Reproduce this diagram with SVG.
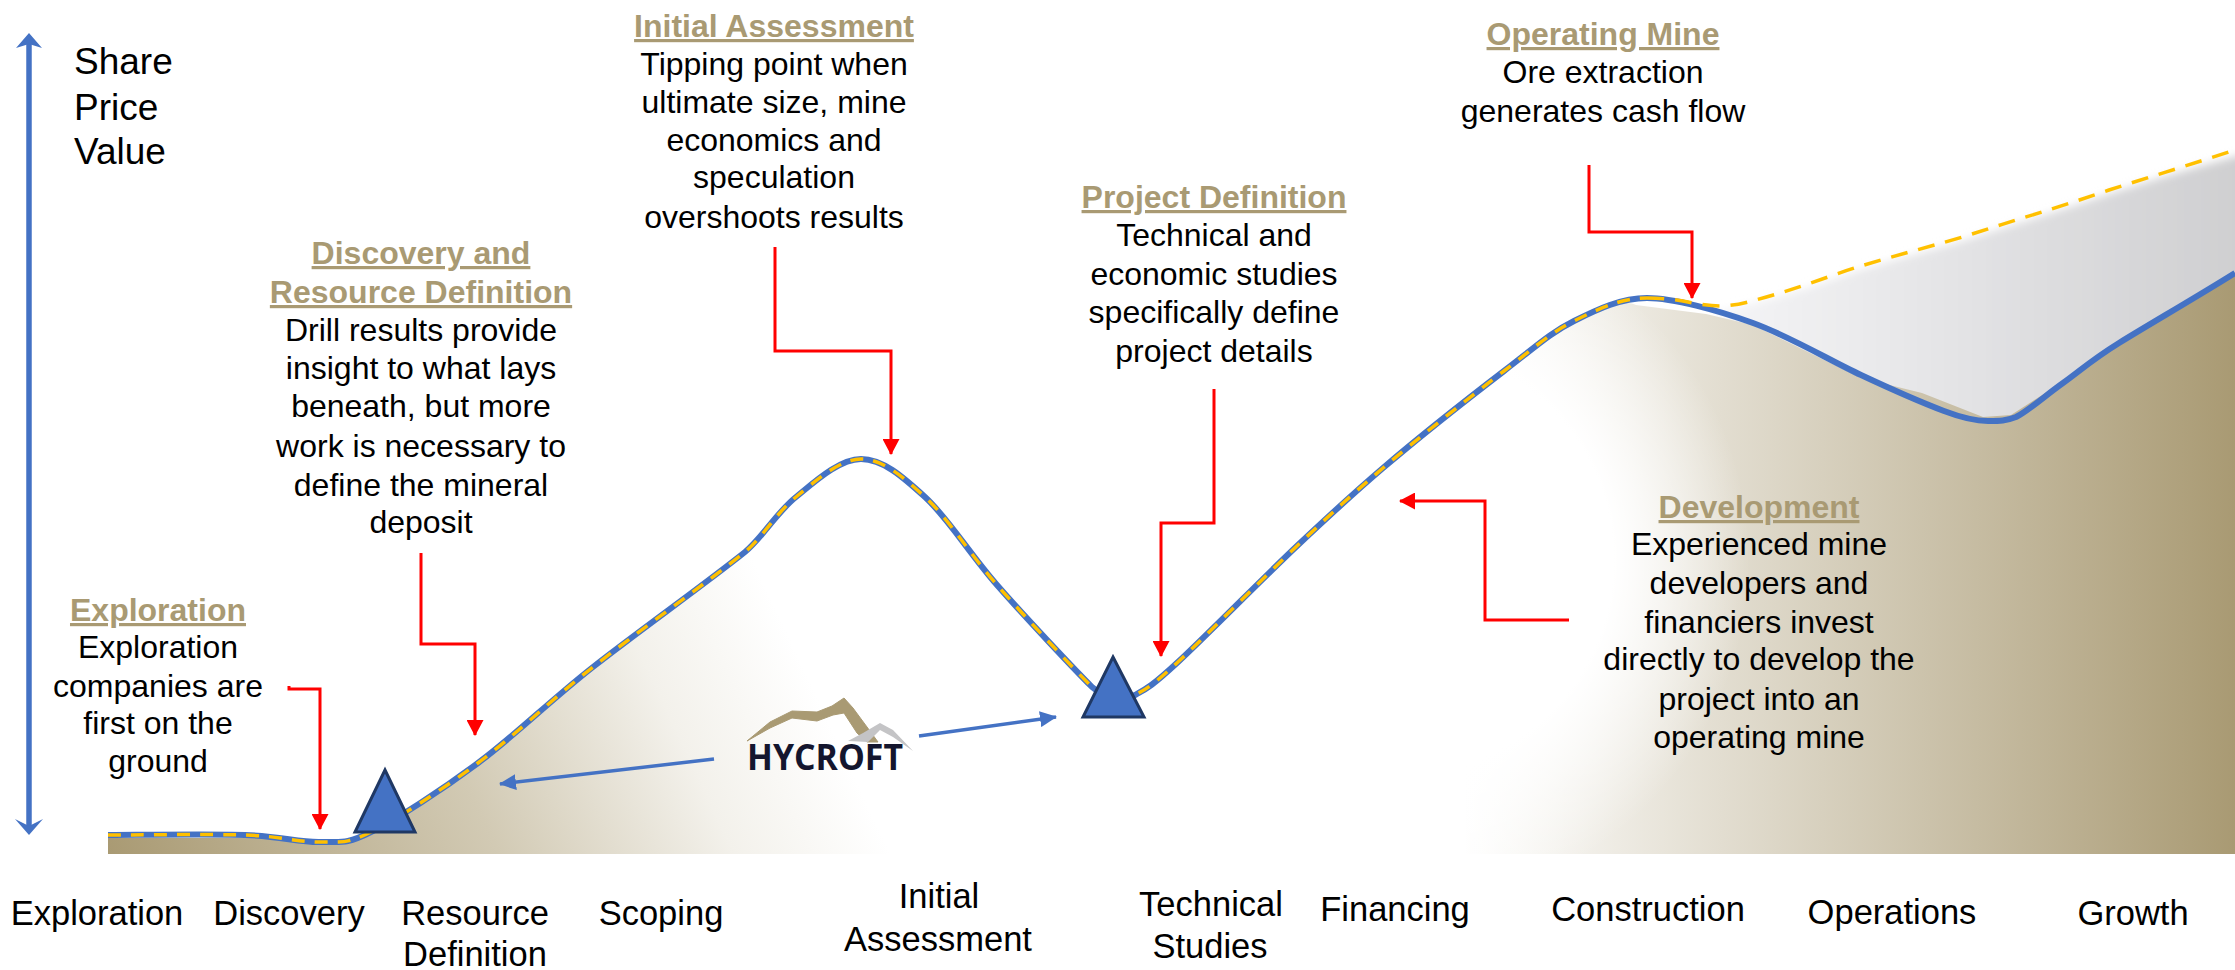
<svg xmlns="http://www.w3.org/2000/svg" width="2235" height="970" viewBox="0 0 2235 970">
<style>
text{font-family:"Liberation Sans",Arial,sans-serif;font-size:32px;fill:#000;text-anchor:middle}
.h{font-weight:700;fill:#A99A73;text-decoration:underline}
.s{font-size:34.500px}
.v{font-size:37px;text-anchor:start}
.red{fill:none;stroke:#FF0000;stroke-width:3}
.blue{fill:none;stroke:#4472C4;stroke-width:3.500}
.curve{fill:none;stroke:#4472C4;stroke-width:6;stroke-linejoin:round}
.dash{fill:none;stroke:#FFC000;stroke-width:3.500;stroke-dasharray:13 10}
.dash2{fill:none;stroke:#FFC000;stroke-width:3.500;stroke-dasharray:17 11}
.tri{fill:#4472C4;stroke:#1F3864;stroke-width:3}
</style>
<defs>
<linearGradient id="gl" gradientUnits="userSpaceOnUse" x1="108" y1="853" x2="750" y2="553"><stop offset="0" stop-color="#A99A73"/><stop offset=".5" stop-color="#D2CAB4"/><stop offset=".8" stop-color="#F3F1EB"/><stop offset="1" stop-color="#FFF"/></linearGradient>
<linearGradient id="gr" gradientUnits="userSpaceOnUse" x1="1464" y1="0" x2="2235" y2="0"><stop offset="0" stop-color="#FFF"/><stop offset="1" stop-color="#A99A73"/></linearGradient>
<radialGradient id="gw" gradientUnits="userSpaceOnUse" cx="1400" cy="560" r="350"><stop offset=".61" stop-color="#FFF"/><stop offset="1" stop-color="#FFF" stop-opacity="0"/></radialGradient>
<linearGradient id="gg" gradientUnits="userSpaceOnUse" x1="1730" y1="0" x2="2235" y2="0"><stop offset="0" stop-color="#F4F4F6"/><stop offset="1" stop-color="#CFCFD1"/></linearGradient>
<filter id="soft" x="-5%" y="-5%" width="110%" height="110%"><feGaussianBlur stdDeviation="4"/></filter>
<marker id="ar" markerUnits="userSpaceOnUse" markerWidth="16" markerHeight="17" refX="15" refY="8.500" orient="auto"><path d="M0 0L16 8.500L0 17Z" fill="#FF0000"/></marker>
<marker id="ab" markerUnits="userSpaceOnUse" markerWidth="17" markerHeight="16" refX="16" refY="8" orient="auto"><path d="M0 0L17 8L0 16Z" fill="#4472C4"/></marker>
</defs>
<g id="terrain">
<path fill="url(#gl)" d="M108 854V838H245C280 836 299 842.500 320 842C341 841.500 345 845 371 832C397 819 441 790.500 478 763C515 735.500 548.500 702 593 667C637.500 632 705 584 745 552C763 537 777 512 796 497L905 854Z"/>
<path fill="url(#gg)" filter="url(#soft)" d="M1712 312C1745 306 1785 296 1828 281C1875 264 1920 254 1969 239C2015 224 2060 211 2109 194C2150 181 2195 167 2245 154V300L2100 420L1990 440L1860 400L1750 345Z"/>
<path fill="url(#gr)" d="M1383 854V468C1417 439 1472 395.500 1504 371C1536 346.500 1550 333 1574 321C1598 309 1621 298 1636 305L1706 314L1753 325L1861 378L1922 393L1983 417L2011 415L2086 367L2119 343C2148 325 2195 298 2235 273V854Z"/>
<rect fill="url(#gw)" x="1050" y="210" width="700" height="644"/>
</g>
<g id="connectors">
<path class="curve" d="M108 835C131 835 210 834 245 835C280 836 299 842.500 320 842C341 841.500 345 845 371 832C397 819 441 790.500 478 763C515 735.500 548.500 702 593 667C637.500 632 705 584 745 552C763 537 777 512 796 497C815 481.500 839.500 459 861 459C882.500 459 902 476 925 497C948 518 969 553 997 585C1025 617 1073 668 1092 687C1099 693 1106 696 1113 698C1120 700 1124 701 1135 695C1146 689 1151 687 1178 662C1205 637 1264 577 1298 545C1332 513 1349 497 1383 468C1417 439 1472 395.500 1504 371C1536 346.500 1550 333 1574 321C1598 309 1621 298 1647 298C1673 298 1717 310 1753 323C1789 336 1829 360 1861 375C1893 390 1923 403 1944 411C1965 419 1976 421 1988 421C2000 421 2006 421 2016 417C2028 411 2046 395 2063 383C2080 371 2090 361 2119 343C2148 325 2195 298 2235 273"/>
<path class="dash" d="M108 835C131 835 210 834 245 835C280 836 299 842.500 320 842C341 841.500 345 845 371 832C397 819 441 790.500 478 763C515 735.500 548.500 702 593 667C637.500 632 705 584 745 552C763 537 777 512 796 497C815 481.500 839.500 459 861 459C882.500 459 902 476 925 497C948 518 969 553 997 585C1025 617 1073 668 1092 687C1099 693 1106 696 1113 698C1120 700 1124 701 1135 695C1146 689 1151 687 1178 662C1205 637 1264 577 1298 545C1332 513 1349 497 1383 468C1417 439 1472 395.500 1504 371C1536 346.500 1550 333 1574 321C1598 309 1621 298 1647 298"/>
<path class="dash2" d="M1647 298C1665 298 1678 300 1688 302C1698 304 1710 306 1720 306C1730 306 1740 304 1748 302C1775 295 1800 287 1828 277C1875 260 1920 250 1969 235C2015 220 2060 207 2109 190C2150 177 2195 163 2235 150"/>
<path class="blue" style="stroke-width:5.500" d="M29 42V828"/>
<path fill="#4472C4" d="M29 33L42 48L29 44L16 48Z"/>
<path fill="#4472C4" d="M29 835L43 819L29 826L15 819Z"/>
<path class="red" marker-end="url(#ar)" d="M289 686V689H320V829"/>
<path class="red" marker-end="url(#ar)" d="M421 553V644H475V735"/>
<path class="red" marker-end="url(#ar)" d="M775 247V351H891V454"/>
<path class="red" marker-end="url(#ar)" d="M1214 389V523H1161V656"/>
<path class="red" marker-end="url(#ar)" d="M1589 165V232H1692V298"/>
<path class="red" marker-end="url(#ar)" d="M1569 620H1485V501H1400"/>
<path class="blue" marker-end="url(#ab)" d="M714 759L500 784"/>
<path class="blue" marker-end="url(#ab)" d="M919 736L1056 717"/>
</g>
<g id="triangle-1"><path class="tri" d="M385 770L415 832H355Z"/></g>
<g id="triangle-2"><path class="tri" d="M1113 657L1144 717H1083Z"/></g>
<g id="hycroft-logo">
<path fill="#A99A73" stroke="#A99A73" stroke-linejoin="round" d="M747 741L770 722L792 711L817 712L832 706L844 698L853 708L867 727L878 742H867L857 733L844 713L833 715L817 721L792 718L770 728Z"/>
<path fill="#C4C4C6" d="M848 741L863 733L880 723L893 730L913 751L893 737L880 730L868 742Z"/>
<text x="825" y="770" textLength="156" lengthAdjust="spacingAndGlyphs" style="font-family:'Open Sans','Noto Sans',sans-serif;font-weight:700;font-size:36px;fill:#14162E">HYCROFT</text>
</g>
<g id="share-price"><text class="v" x="74" y="74">Share</text><text class="v" x="74" y="120">Price</text><text class="v" x="74" y="164">Value</text></g>
<g id="exploration"><text class="h" x="158" y="621">Exploration</text><text x="158" y="658">Exploration</text><text x="158" y="697">companies are</text><text x="158" y="734">first on the</text><text x="158" y="772">ground</text></g>
<g id="discovery"><text class="h" x="421" y="264">Discovery and</text><text class="h" x="421" y="303">Resource Definition</text><text x="421" y="341">Drill results provide</text><text x="421" y="379">insight to what lays</text><text x="421" y="417">beneath, but more</text><text x="421" y="457">work is necessary to</text><text x="421" y="496">define the mineral</text><text x="421" y="533">deposit</text></g>
<g id="initial"><text class="h" x="774" y="37">Initial Assessment</text><text x="774" y="75">Tipping point when</text><text x="774" y="113">ultimate size, mine</text><text x="774" y="151">economics and</text><text x="774" y="188">speculation</text><text x="774" y="228">overshoots results</text></g>
<g id="project"><text class="h" x="1214" y="208">Project Definition</text><text x="1214" y="246">Technical and</text><text x="1214" y="285">economic studies</text><text x="1214" y="323">specifically define</text><text x="1214" y="362">project details</text></g>
<g id="operating"><text class="h" x="1603" y="45">Operating Mine</text><text x="1603" y="83">Ore extraction</text><text x="1603" y="122">generates cash flow</text></g>
<g id="development"><text class="h" x="1759" y="518">Development</text><text x="1759" y="555">Experienced mine</text><text x="1759" y="594">developers and</text><text x="1759" y="633">financiers invest</text><text x="1759" y="670">directly to develop the</text><text x="1759" y="710">project into an</text><text x="1759" y="748">operating mine</text></g>
<g id="stages">
<text class="s" x="97" y="925">Exploration</text><text class="s" x="289" y="925">Discovery</text><text class="s" x="475" y="925">Resource</text><text class="s" x="475" y="966">Definition</text><text class="s" x="661" y="925">Scoping</text><text class="s" x="939" y="908">Initial</text><text class="s" x="938" y="951">Assessment</text><text class="s" x="1211" y="916">Technical</text><text class="s" x="1210" y="958">Studies</text><text class="s" x="1395" y="921">Financing</text><text class="s" x="1648" y="921">Construction</text><text class="s" x="1892" y="924">Operations</text><text class="s" x="2133" y="925">Growth</text>
</g>
</svg>
